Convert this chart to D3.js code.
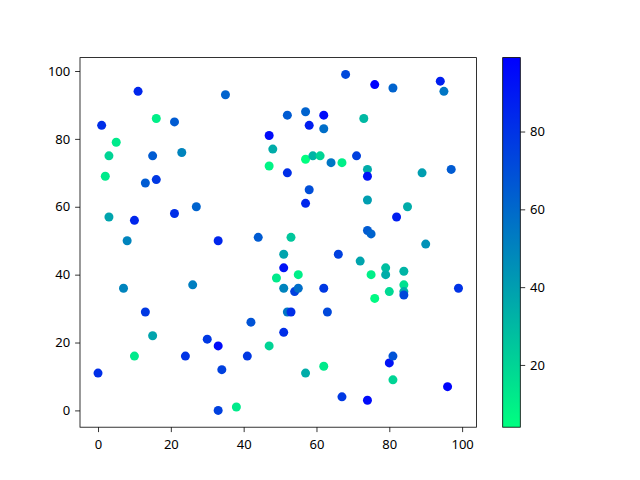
<!DOCTYPE html>
<html><head><meta charset="utf-8">
<script src="https://cdn.jsdelivr.net/npm/d3@7"></script>
<style>body{margin:0;background:#fff}svg{display:block}text{font-family:"Noto Sans",sans-serif;font-size:13px;fill:#000}</style>
</head><body>
<script>
const xs = [0,1,2,3,3,5,7,8,10,10,11,13,13,15,15,16,16,21,21,23,24,26,27,30,33,33,33,34,35,38,42,41,44,47,47,47,48,49,51,51,51,51,52,52,52,53,53,54,55,55,57,57,57,57,58,58,59,61,62,62,62,62,63,64,66,67,67,68,71,72,73,74,74,74,74,75,74,75,76,76,79,79,80,80,81,81,81,82,84,84,84,84,85,89,90,94,95,96,97,99];
const ys = [11,84,69,75,57,79,36,50,56,16,94,67,29,75,22,86,68,85,58,76,16,37,60,21,50,19,0,12,93,1,26,16,51,81,72,19,77,39,46,42,36,23,87,70,29,51,29,35,36,40,88,74,61,11,84,65,75,75,87,83,36,13,29,73,46,73,4,99,75,44,86,71,69,62,53,52,3,40,33,96,42,40,35,14,95,16,9,57,41,37,35,34,60,70,49,97,94,7,71,36];
const cs = [82,82,12,20,38,12,50,50,85,12,85,65,78,65,38,10,78,65,82,50,80,52,62,78,85,95,75,75,62,12,68,78,65,95,8,20,35,12,38,92,50,82,65,82,55,25,82,75,58,10,62,4,85,35,88,70,32,20,95,58,78,12,72,55,75,10,78,72,75,38,30,35,92,40,65,62,95,10,6,99,28,35,18,92,62,68,20,88,32,15,35,72,35,40,45,88,55,97,65,80];
const cbTicks = [20,40,60,80];
const xTicks = [0,20,40,60,80,100];
const yTicks = [0,20,40,60,80,100];

const W=640,H=480;
const L=80,R=476.5,T=57.6,B=427.2;
const svg=d3.select("body").append("svg").attr("width",W).attr("height",H);
const pad=(99-0)*0.05;
const x=d3.scaleLinear().domain([d3.min(xs)-pad,d3.max(xs)+pad]).range([L,R]);
const y=d3.scaleLinear().domain([d3.min(ys)-pad,d3.max(ys)+pad]).range([B,T]);
const cext=d3.extent(cs);
const color=d3.scaleLinear().domain(cext).range(["#00ff80","#0000ff"]).interpolate(d3.interpolateRgb);

const data=xs.map((v,i)=>({x:v,y:ys[i],c:cs[i]}));
svg.append("g").selectAll("circle").data(data).join("circle")
  .attr("cx",d=>x(d.x)).attr("cy",d=>y(d.y)).attr("r",4.5).attr("fill",d=>color(d.c));

svg.append("rect").attr("x",L).attr("y",T).attr("width",R-L).attr("height",B-T)
  .attr("fill","none").attr("stroke","#000").attr("stroke-width",0.8);

const xa=svg.append("g").attr("transform",`translate(0,${B})`).call(d3.axisBottom(x).tickValues(xTicks).tickSize(4.9).tickPadding(4.9));
const ya=svg.append("g").attr("transform",`translate(${L},0)`).call(d3.axisLeft(y).tickValues(yTicks).tickSize(4.9).tickPadding(4.9));
[xa,ya].forEach(a=>{a.select(".domain").remove();a.selectAll("line").attr("stroke-width",0.8);a.selectAll("text").attr("font-size",null).attr("font-family",null);});
xa.selectAll("text").attr("dy","0.95em");

// colorbar
const cL=502.7,cR=520.3;
const defs=svg.append("defs");
const grad=defs.append("linearGradient").attr("id","cb").attr("x1",0).attr("y1",1).attr("x2",0).attr("y2",0);
grad.append("stop").attr("offset","0%").attr("stop-color","#00ff80");
grad.append("stop").attr("offset","100%").attr("stop-color","#0000ff");
svg.append("rect").attr("x",cL).attr("y",T).attr("width",cR-cL).attr("height",B-T).attr("fill","url(#cb)");
svg.append("rect").attr("x",cL).attr("y",T).attr("width",cR-cL).attr("height",B-T).attr("fill","none").attr("stroke","#000").attr("stroke-width",0.8);
const cy=d3.scaleLinear().domain(cext).range([B,T]);
const ca=svg.append("g").attr("transform",`translate(${cR},0)`).call(d3.axisRight(cy).tickValues(cbTicks).tickSize(4.9).tickPadding(4.9));
ca.select(".domain").remove();ca.selectAll("line").attr("stroke-width",0.8);ca.selectAll("text").attr("font-size",null).attr("font-family",null);
</script>
</body></html>
